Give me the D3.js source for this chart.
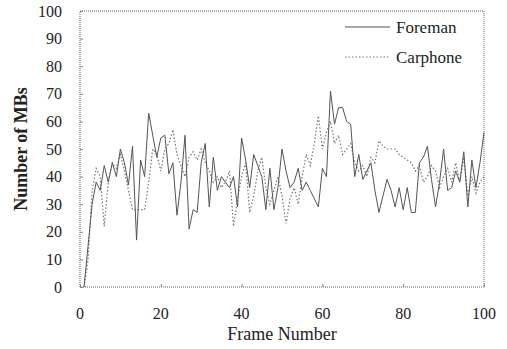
<!DOCTYPE html>
<html>
<head>
<meta charset="utf-8">
<script src="https://cdn.jsdelivr.net/npm/d3@7"></script>
<style>
  body { margin: 0; background: #fff; }
</style>
</head>
<body>
<div id="chart"></div>
<script>
// frames 1..100
const frames = d3.range(1, 101);
const foreman = [0, 15, 30, 38, 35, 44, 38, 45, 40, 50, 45, 37, 51, 17, 46, 40, 63, 55, 47, 54,
  55, 41, 45, 26, 38, 55, 21, 28, 27, 45, 52, 29, 47, 35, 40, 38, 36, 40, 29, 54,
  46, 36, 48, 44, 40, 28, 43, 28, 36, 50, 42, 36, 38, 43, 35, 38, 35, 32, 29, 43,
  40, 71, 59, 65, 65, 60, 59, 40, 48, 39, 42, 45, 35, 27, 33, 39, 35, 29, 36, 28,
  36, 27, 27, 45, 47, 51, 39, 29, 38, 50, 35, 36, 42, 38, 49, 29, 46, 36, 45, 56];
const carphone = [0, 10, 35, 43, 40, 22, 38, 45, 43, 48, 42, 35, 28, 28, 28, 28, 38, 50, 48, 42,
  50, 52, 57, 48, 44, 40, 47, 49, 46, 50, 45, 42, 38, 40, 36, 38, 42, 22, 32, 40,
  45, 27, 33, 42, 47, 36, 30, 35, 40, 33, 23, 32, 36, 30, 40, 48, 44, 52, 62, 50,
  56, 60, 52, 55, 48, 50, 52, 45, 42, 44, 40, 47, 45, 53, 51, 50, 50, 50, 48, 47,
  46, 45, 42, 44, 38, 40, 44, 42, 36, 40, 43, 38, 45, 38, 47, 33, 40, 34, 38, 40];
const xTicks = [0, 20, 40, 60, 80, 100];
const yTicks = [0, 10, 20, 30, 40, 50, 60, 70, 80, 90, 100];
const seriesNames = ["Foreman", "Carphone"];

const W = 507, H = 349;
const m = { left: 80, right: 23, top: 11, bottom: 62 };
const serif = "Liberation Serif";

const svg = d3.select("#chart").append("svg")
  .attr("width", W).attr("height", H)
  .style("font-family", serif);

const x = d3.scaleLinear().domain([0, 100]).range([m.left, W - m.right]);
const y = d3.scaleLinear().domain([0, 100]).range([H - m.bottom, m.top]);

// plot frame (dotted border)
svg.append("rect")
  .attr("x", x(0)).attr("y", y(100))
  .attr("width", x(100) - x(0)).attr("height", y(0) - y(100))
  .attr("fill", "none")
  .attr("stroke", "#666")
  .attr("stroke-width", 1)
  .attr("stroke-dasharray", "1,1");

// axes: small inner ticks, labels outside
const yAxis = svg.append("g")
  .attr("transform", `translate(${x(0)},0)`)
  .call(d3.axisRight(y).tickValues(yTicks).tickSize(3).tickFormat(""));
yAxis.select(".domain").remove();
yAxis.selectAll("line").attr("stroke", "#888");

svg.append("g").selectAll("text").data(yTicks).join("text")
  .attr("x", 62).attr("y", d => y(d))
  .attr("dy", "0.35em")
  .attr("text-anchor", "end")
  .style("font-family", serif)
  .style("font-size", "16px")
  .attr("fill", "#222")
  .text(d => d);

const xAxis = svg.append("g")
  .attr("transform", `translate(0,${y(0)})`)
  .call(d3.axisTop(x).tickValues(xTicks).tickSize(3).tickFormat(""));
xAxis.select(".domain").remove();
xAxis.selectAll("line").attr("stroke", "#888");

svg.append("g").selectAll("text").data(xTicks).join("text")
  .attr("x", d => x(d)).attr("y", 313)
  .attr("dy", "0.35em")
  .attr("text-anchor", "middle")
  .style("font-family", serif)
  .style("font-size", "16px")
  .attr("fill", "#222")
  .text(d => d);

svg.append("text")
  .attr("x", x(50)).attr("y", 334)
  .attr("dy", "0.35em")
  .attr("text-anchor", "middle")
  .style("font-family", serif)
  .style("font-size", "18px")
  .attr("fill", "#222")
  .text("Frame Number");

svg.append("text")
  .attr("transform", `translate(21,${(y(0) + y(100)) / 2}) rotate(-90)`)
  .attr("dy", "0.35em")
  .attr("text-anchor", "middle")
  .style("font-family", serif)
  .style("font-size", "18px")
  .style("font-weight", "bold")
  .attr("fill", "#222")
  .text("Number of MBs");

// series
const line = d3.line().x((d, i) => x(frames[i])).y(d => y(d));

svg.append("path").datum(carphone)
  .attr("d", line)
  .attr("fill", "none")
  .attr("stroke", "#777")
  .attr("stroke-width", 1.2)
  .attr("stroke-dasharray", "1.5,2");

svg.append("path").datum(foreman)
  .attr("d", line)
  .attr("fill", "none")
  .attr("stroke", "#555")
  .attr("stroke-width", 1);

// legend
const legend = svg.append("g");
const ly = [27, 57];
seriesNames.forEach((name, i) => {
  legend.append("line")
    .attr("x1", 345).attr("x2", 390)
    .attr("y1", ly[i]).attr("y2", ly[i])
    .attr("stroke", i === 0 ? "#555" : "#777")
    .attr("stroke-width", i === 0 ? 1 : 1.2)
    .attr("stroke-dasharray", i === 0 ? null : "1.5,2");
  legend.append("text")
    .attr("x", 396).attr("y", ly[i])
    .attr("dy", "0.35em")
    .style("font-family", serif)
    .style("font-size", "17px")
    .attr("fill", "#222")
    .text(name);
});
</script>
</body>
</html>
